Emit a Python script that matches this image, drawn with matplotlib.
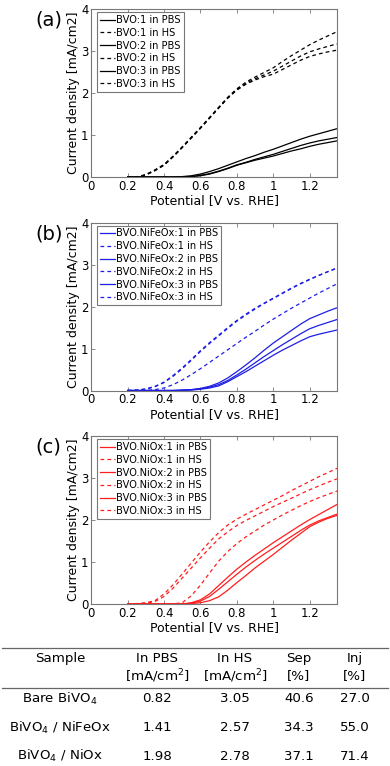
import matplotlib
matplotlib.use("Agg")
import matplotlib.pyplot as plt
from matplotlib.lines import Line2D

plt.rcParams['font.family'] = ['DejaVu Sans']
plt.rcParams['mathtext.fontset'] = 'dejavusans'

# potential (V vs. RHE), 0.2 .. 1.35 in 0.05 steps
v = [0.2, 0.25, 0.3, 0.35, 0.4, 0.45, 0.5, 0.55, 0.6, 0.65, 0.7, 0.75,
     0.8, 0.85, 0.9, 0.95, 1.0, 1.05, 1.1, 1.15, 1.2, 1.25, 1.3, 1.35]

# (a) bare BiVO4
a_pbs = [
    [0, 0, 0, 0, 0, 0, 0.01, 0.03, 0.07, 0.13, 0.2, 0.28, 0.36, 0.44, 0.51, 0.59, 0.66, 0.74, 0.82, 0.9, 0.97, 1.03, 1.09, 1.15],
    [0, 0, 0, 0, 0, 0, 0, 0.01, 0.04, 0.08, 0.14, 0.21, 0.29, 0.35, 0.42, 0.48, 0.54, 0.61, 0.68, 0.75, 0.81, 0.86, 0.9, 0.94],
    [0, 0, 0, 0, 0, 0, 0, 0.01, 0.03, 0.07, 0.13, 0.2, 0.28, 0.34, 0.4, 0.45, 0.5, 0.56, 0.62, 0.67, 0.73, 0.78, 0.82, 0.86],
]
a_hs = [
    [0, 0, 0.06, 0.17, 0.3, 0.5, 0.72, 0.95, 1.18, 1.42, 1.66, 1.9, 2.1, 2.26, 2.38, 2.49, 2.6, 2.75, 2.89, 3.02, 3.15, 3.26, 3.36, 3.46],
    [0, 0, 0.05, 0.15, 0.28, 0.48, 0.7, 0.93, 1.16, 1.4, 1.64, 1.88, 2.08, 2.23, 2.34, 2.43, 2.52, 2.64, 2.76, 2.88, 2.98, 3.05, 3.11, 3.17],
    [0, 0, 0.05, 0.16, 0.29, 0.49, 0.71, 0.94, 1.17, 1.41, 1.65, 1.88, 2.07, 2.21, 2.31, 2.39, 2.45, 2.56, 2.67, 2.78, 2.87, 2.93, 2.98, 3.02],
]

# (b) BiVO4 / NiFeOx
b_pbs = [
    [0, 0, 0, 0, 0, 0, 0.01, 0.02, 0.05, 0.1, 0.18, 0.3, 0.45, 0.61, 0.78, 0.96, 1.13, 1.28, 1.43, 1.58, 1.71, 1.8, 1.89, 1.97],
    [0, 0, 0, 0, 0, 0, 0.01, 0.02, 0.04, 0.08, 0.14, 0.24, 0.37, 0.51, 0.66, 0.81, 0.95, 1.09, 1.22, 1.35, 1.47, 1.55, 1.62, 1.69],
    [0, 0, 0, 0, 0, 0, 0, 0.01, 0.03, 0.06, 0.11, 0.21, 0.33, 0.45, 0.58, 0.71, 0.84, 0.96, 1.07, 1.18, 1.28, 1.34, 1.39, 1.44],
]
b_hs = [
    [0, 0.01, 0.04, 0.1, 0.2, 0.36, 0.54, 0.74, 0.95, 1.14, 1.32, 1.5, 1.67, 1.82, 1.96, 2.08, 2.2, 2.32, 2.44, 2.55, 2.65, 2.74, 2.83, 2.92],
    [0, 0.01, 0.03, 0.09, 0.19, 0.34, 0.52, 0.72, 0.93, 1.12, 1.3, 1.48, 1.65, 1.8, 1.94, 2.07, 2.19, 2.31, 2.43, 2.54, 2.64, 2.74, 2.83, 2.91],
    [0, 0, 0, 0.02, 0.06, 0.14, 0.25, 0.38, 0.52, 0.67, 0.82, 0.97, 1.12, 1.27, 1.41, 1.56, 1.7, 1.83, 1.96, 2.08, 2.2, 2.32, 2.43, 2.54],
]

# (c) BiVO4 / NiOx
c_pbs = [
    [0, 0, 0, 0, 0, 0, 0, 0.03, 0.1, 0.24, 0.44, 0.64, 0.83, 1.0, 1.16, 1.31, 1.46, 1.6, 1.74, 1.88, 2.01, 2.13, 2.25, 2.37],
    [0, 0, 0, 0, 0, 0, 0, 0.02, 0.07, 0.18, 0.35, 0.53, 0.71, 0.88, 1.04, 1.19, 1.33, 1.47, 1.61, 1.75, 1.88, 1.98, 2.06, 2.14],
    [0, 0, 0, 0, 0, 0, 0, 0.01, 0.03, 0.08, 0.17, 0.33, 0.51, 0.68, 0.86, 1.02, 1.18, 1.35, 1.52, 1.68, 1.84, 1.95, 2.04, 2.11],
]
c_hs = [
    [0, 0.01, 0.03, 0.08, 0.24, 0.46, 0.72, 0.98, 1.24, 1.48, 1.7, 1.88, 2.02, 2.14, 2.25, 2.36, 2.47, 2.58, 2.7, 2.81, 2.92, 3.03, 3.13, 3.23],
    [0, 0, 0.02, 0.06, 0.18, 0.38, 0.62, 0.86, 1.1, 1.33, 1.55, 1.72, 1.87, 1.99, 2.1, 2.21, 2.32, 2.42, 2.52, 2.62, 2.72, 2.81, 2.9, 2.98],
    [0, 0, 0, 0, 0, 0, 0.03, 0.2, 0.45, 0.74, 1.02, 1.25, 1.44, 1.6, 1.74, 1.88, 2.0, 2.12, 2.23, 2.34, 2.44, 2.53, 2.61, 2.69],
]

panels = [
    ('(a)', 'BVO', 'black', a_pbs, a_hs),
    ('(b)', 'BVO.NiFeOx', '#1e1ee6', b_pbs, b_hs),
    ('(c)', 'BVO.NiOx', '#ff1e1e', c_pbs, c_hs),
]

# table
tbl_header = [('Sample', ''), ('In PBS', '[mA/cm$^2$]'), ('In HS', '[mA/cm$^2$]'),
              ('Sep', '[%]'), ('Inj', '[%]')]
tbl_samples = ['Bare BiVO$_4$', 'BiVO$_4$ / NiFeOx', 'BiVO$_4$ / NiOx']
tbl_pbs = ['0.82', '1.41', '1.98']
tbl_hs = ['3.05', '2.57', '2.78']
tbl_sep = ['40.6', '34.3', '37.1']
tbl_inj = ['27.0', '55.0', '71.4']

W, H = 390, 766
fig = plt.figure(figsize=(W / 100, H / 100), dpi=100)

spine_col = '#777777'
tops = [9, 222.5, 436]
for (tag, name, col, pbs, hs), top in zip(panels, tops):
    ax = fig.add_axes([91.3 / W, 1 - (top + 168) / H, 245.7 / W, 168 / H])
    for i in range(3):
        ax.plot(v, pbs[i], color=col, lw=0.9, label=f'{name}:{i + 1} in PBS')
        ax.plot(v, hs[i], color=col, lw=0.9, ls=(0, (3, 2.5)),
                label=f'{name}:{i + 1} in HS')
    ax.set_xlim(0, 1.35)
    ax.set_ylim(0, 4)
    ax.set_xticks([0, 0.2, 0.4, 0.6, 0.8, 1, 1.2])
    ax.set_xticklabels(['0', '0.2', '0.4', '0.6', '0.8', '1', '1.2'])
    ax.set_yticks([0, 1, 2, 3, 4])
    ax.tick_params(direction='in', length=3, width=0.6, color=spine_col,
                   top=True, labelsize=8.4, pad=2)
    for s in ax.spines.values():
        s.set_color(spine_col)
        s.set_linewidth(0.8)
    ax.set_xlabel('Potential [V vs. RHE]', fontsize=9, labelpad=1)
    ax.set_ylabel('Current density [mA/cm2]', fontsize=9, labelpad=1)
    leg = ax.legend(loc='upper left', bbox_to_anchor=(0.023, 0.982),
                    borderaxespad=0, fontsize=7.1, handlelength=1.5,
                    handletextpad=0.15, labelspacing=0.28, borderpad=0.3,
                    fancybox=False, framealpha=1)
    leg.get_frame().set_edgecolor(spine_col)
    leg.get_frame().set_linewidth(0.8)
    fig.text(35 / W, 1 - (top + 11) / H, tag, fontsize=14, va='center', ha='left')

# table drawn in figure pixels
col_x = [60, 157, 235, 299, 355]
line_kw = dict(color='#666666', lw=0.9, transform=fig.transFigure)
fig.add_artist(Line2D([2 / W, 388 / W], [1 - 647.5 / H] * 2, **line_kw))
fig.add_artist(Line2D([2 / W, 388 / W], [1 - 687.5 / H] * 2, **line_kw))
for x, (l1, l2) in zip(col_x, tbl_header):
    fig.text(x / W, 1 - 658.5 / H, l1, fontsize=9.6, ha='center', va='center')
    if l2:
        fig.text(x / W, 1 - 676 / H, l2, fontsize=9.6, ha='center', va='center')
row_y = [698.5, 727.5, 756]
for r, y in enumerate(row_y):
    vals = [tbl_samples[r], tbl_pbs[r], tbl_hs[r], tbl_sep[r], tbl_inj[r]]
    for x, t in zip(col_x, vals):
        fig.text(x / W, 1 - y / H, t, fontsize=9.6, ha='center', va='center')

fig.savefig('out.png', dpi=100)
